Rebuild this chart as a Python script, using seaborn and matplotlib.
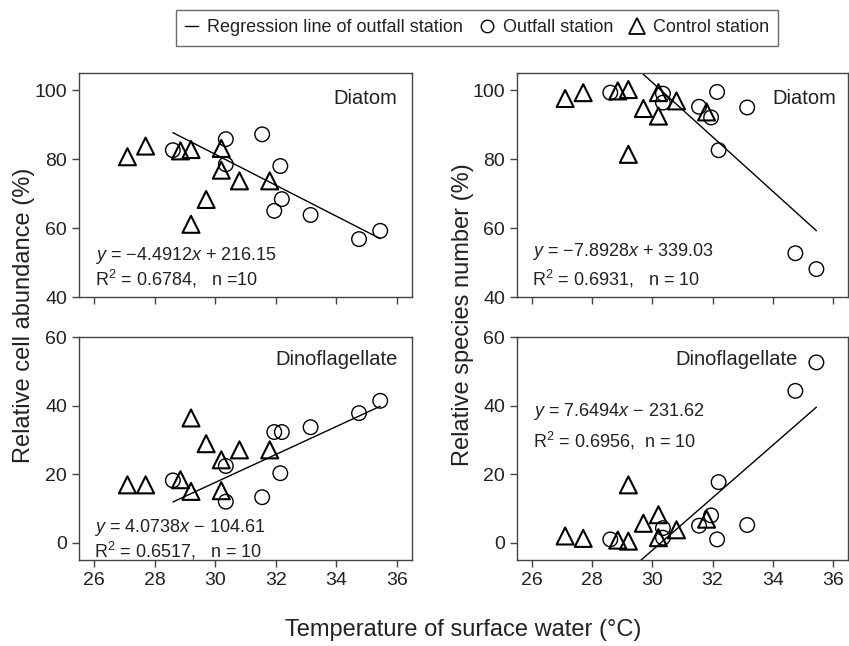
import numpy as np
import pandas as pd
import seaborn as sns
import matplotlib.pyplot as plt
from matplotlib.lines import Line2D

# water temperature (°C) at the two station types
ctrl_temp = [27.1, 27.7, 28.85, 29.2, 29.2, 29.7, 30.2, 30.2, 30.8, 31.8]
out_temp = [28.6, 30.35, 30.35, 31.55, 31.95, 32.15, 32.2, 33.15, 34.75, 35.45]

# relative cell abundance (%)
cell_diatom_ctrl = [80.7, 83.8, 82.4, 82.8, 61.1, 68.3, 83.1, 76.8, 73.7, 73.7]
cell_diatom_out = [82.6, 85.8, 78.5, 87.2, 65.0, 78.0, 68.4, 63.8, 56.8, 59.2]
cell_dino_ctrl = [16.9, 16.9, 18.4, 15.0, 36.4, 28.9, 15.2, 24.2, 27.1, 27.1]
cell_dino_out = [18.2, 12.0, 22.4, 13.3, 32.3, 20.3, 32.3, 33.7, 37.8, 41.4]

# relative species number (%)
sp_diatom_ctrl = [97.6, 99.3, 99.8, 100.2, 81.4, 94.7, 99.3, 92.5, 96.9, 93.7]
sp_diatom_out = [99.3, 99.0, 96.4, 95.2, 92.1, 99.5, 82.6, 95.0, 52.7, 48.1]
sp_dino_ctrl = [2.0, 1.3, 0.8, 0.5, 16.9, 5.7, 1.5, 8.2, 3.8, 6.9]
sp_dino_out = [1.0, 1.5, 4.3, 5.0, 8.0, 1.0, 17.7, 5.2, 44.3, 52.6]

# regression of outfall station (slope, intercept)
fit_cell_diatom = (-4.4912, 216.15)
fit_cell_dino = (4.0738, -104.61)
fit_sp_diatom = (-7.8928, 339.03)
fit_sp_dino = (7.6494, -231.62)

sns.set_style('ticks')
plt.rcParams['font.family'] = ['Liberation Sans', 'DejaVu Sans']
plt.rcParams['mathtext.fontset'] = 'custom'
plt.rcParams['mathtext.rm'] = 'Liberation Sans'
plt.rcParams['mathtext.it'] = 'Liberation Sans:italic'

fig = plt.figure(figsize=(8.49, 6.46), dpi=100)

W, H = 849, 646
def box(x0, x1, y0, y1):
    return [x0 / W, 1 - y1 / H, (x1 - x0) / W, (y1 - y0) / H]

ax_tl = fig.add_axes(box(79, 412, 73, 297))
ax_tr = fig.add_axes(box(517, 848, 73, 297))
ax_bl = fig.add_axes(box(79, 412, 337, 560))
ax_br = fig.add_axes(box(517, 848, 337, 560))

# (axes, control, outfall, fit, name, name pos, equation text, text pos, line spacing)
panels = [
    (ax_tl, cell_diatom_ctrl, cell_diatom_out, fit_cell_diatom, 'Diatom', (0.955, 0.884),
     '$y$ = −4.4912$x$ + 216.15\nR$^2$ = 0.6784,   n =10', (0.048, 0.132), 1.15),
    (ax_tr, sp_diatom_ctrl, sp_diatom_out, fit_sp_diatom, 'Diatom', (0.964, 0.888),
     '$y$ = −7.8928$x$ + 339.03\nR$^2$ = 0.6931,   n = 10', (0.045, 0.141), 1.3),
    (ax_bl, cell_dino_ctrl, cell_dino_out, fit_cell_dino, 'Dinoflagellate', (0.958, 0.897),
     '$y$ = 4.0738$x$ − 104.61\nR$^2$ = 0.6517,   n = 10', (0.045, 0.092), 1.1),
    (ax_br, sp_dino_ctrl, sp_dino_out, fit_sp_dino, 'Dinoflagellate', (0.849, 0.897),
     '$y$ = 7.6494$x$ − 231.62\nR$^2$ = 0.6956,  n = 10', (0.048, 0.599), 1.45),
]

for ax, yc, yo, fit, name, npos, eq, epos, lsp in panels:
    sns.scatterplot(x=ctrl_temp, y=yc, ax=ax, marker='^', s=150,
                    facecolor='none', edgecolor='black', linewidth=1.5, zorder=3)
    sns.scatterplot(x=out_temp, y=yo, ax=ax, marker='o', s=110,
                    facecolor='none', edgecolor='black', linewidth=1, zorder=3)
    xs = np.array([min(out_temp), max(out_temp)])
    sns.lineplot(x=xs, y=fit[0] * xs + fit[1], ax=ax, color='black', linewidth=1)
    ax.text(npos[0], npos[1], name, transform=ax.transAxes, ha='right', va='center',
            fontsize=14.5, color='#222222')
    ax.text(epos[0], epos[1], eq, transform=ax.transAxes, ha='left', va='center',
            fontsize=13, color='#222222', linespacing=lsp)
    ax.set_xlim(25.5, 36.5)
    ax.set_xticks([26, 28, 30, 32, 34, 36])
    for sp in ax.spines.values():
        sp.set_visible(True)
        sp.set_color('#444444')
        sp.set_linewidth(1)
    ax.tick_params(direction='out', length=5, width=1, color='#444444',
                   labelsize=14, labelcolor='#222222')

for ax in (ax_tl, ax_tr):
    ax.set_ylim(40, 105)
    ax.set_yticks([40, 60, 80, 100])
    ax.tick_params(labelbottom=False)
for ax in (ax_bl, ax_br):
    ax.set_ylim(-5, 60)
    ax.set_yticks([0, 20, 40, 60])

fig.text(24 / W, 1 - 315 / H, 'Relative cell abundance (%)', rotation=90,
         ha='center', va='center', fontsize=17, color='#222222')
fig.text(463 / W, 1 - 315 / H, 'Relative species number (%)', rotation=90,
         ha='center', va='center', fontsize=17, color='#222222')
fig.text(463 / W, 1 - 630 / H, 'Temperature of surface water (°C)',
         ha='center', va='center', fontsize=17, color='#222222')

handles = [
    Line2D([], [], color='black', linewidth=1),
    Line2D([], [], marker='o', linestyle='none', markerfacecolor='none',
           markeredgecolor='black', markersize=9),
    Line2D([], [], marker='^', linestyle='none', markerfacecolor='none',
           markeredgecolor='black', markeredgewidth=1.3, markersize=11),
]
labels = ['Regression line of outfall station', 'Outfall station', 'Control station']
leg = fig.legend(handles, labels, loc='center', bbox_to_anchor=(477 / W, 1 - 28 / H),
                 ncol=3, fontsize=13, frameon=True, fancybox=False,
                 handlelength=0.7, handletextpad=0.5, columnspacing=1.0,
                 borderpad=0.5, edgecolor='#444444')
leg.get_frame().set_linewidth(1)
for t in leg.get_texts():
    t.set_color('#222222')

fig.savefig('out.png', dpi=100)
